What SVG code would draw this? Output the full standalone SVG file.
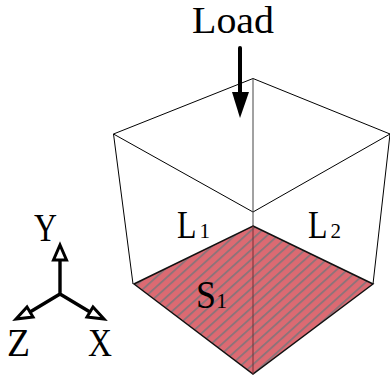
<svg xmlns="http://www.w3.org/2000/svg" width="390" height="376" viewBox="0 0 390 376">
<style>
text{font-family:"Liberation Serif","Times New Roman",serif;fill:#000}
.big{font-size:39px}.sub{font-size:21px}
.edge{fill:none;stroke:#000;stroke-width:1}
.axis{fill:none;stroke:#000;stroke-width:3.4;stroke-linecap:round}
.head{fill:#fff;stroke:#000;stroke-width:3;stroke-linejoin:miter}
</style>
<defs>
<pattern id="hatch" width="7.2" height="7.2" patternUnits="userSpaceOnUse" patternTransform="rotate(-42)">
<rect width="7.2" height="7.2" fill="#dc6a72"/>
<rect width="7.2" height="1.9" fill="#8e7379"/>
</pattern>
</defs>
<rect width="390" height="376" fill="#fff"/>
<g id="connectors">
<path class="edge" d="M113.500 134L253 78.500L390 134M113.500 134L253 212L390 134M113.500 134L133 284M390 134L373 284"/>
<path d="M253 78.500V226" fill="none" stroke="#444" stroke-width="1"/>
</g>
<g id="surface">
<path d="M253 226L373 284L253 374L134 284Z" fill="url(#hatch)" stroke="#111" stroke-width="1.5" stroke-linejoin="miter"/>
<path d="M253 226V374" fill="none" stroke="#7a2f35" stroke-width="1"/>
</g>
<g id="load">
<path d="M240 48V95" fill="none" stroke="#000" stroke-width="4" stroke-linecap="round"/>
<path d="M232 92H249L240 118Z" fill="#000"/>
<text style="font-size:37px" x="192" y="33" textLength="82" lengthAdjust="spacingAndGlyphs">Load</text>
</g>
<g id="L1"><text class="big" x="177" y="238" textLength="19.500" lengthAdjust="spacingAndGlyphs">L</text><text class="sub" x="199.500" y="238">1</text></g>
<g id="L2"><text class="big" x="308" y="238" textLength="19.500" lengthAdjust="spacingAndGlyphs">L</text><text class="sub" x="330.500" y="238">2</text></g>
<g id="S1"><text class="big" x="196" y="308" textLength="20" lengthAdjust="spacingAndGlyphs">S</text><text class="sub" x="216.500" y="308">1</text></g>
<g id="axes">
<path class="axis" d="M60 294V258M60 294L30 312M60 294L90 312"/>
<path class="head" d="M60 245L66.500 260H53.500Z"/>
<path class="head" d="M16 319L27 307L33 317Z"/>
<path class="head" d="M104 319L93 307L87 317Z"/>
<text class="big" x="34" y="241" textLength="23" lengthAdjust="spacingAndGlyphs">Y</text>
<text class="big" x="7" y="356" textLength="23" lengthAdjust="spacingAndGlyphs">Z</text>
<text class="big" x="88" y="356" textLength="24" lengthAdjust="spacingAndGlyphs">X</text>
</g>
</svg>
